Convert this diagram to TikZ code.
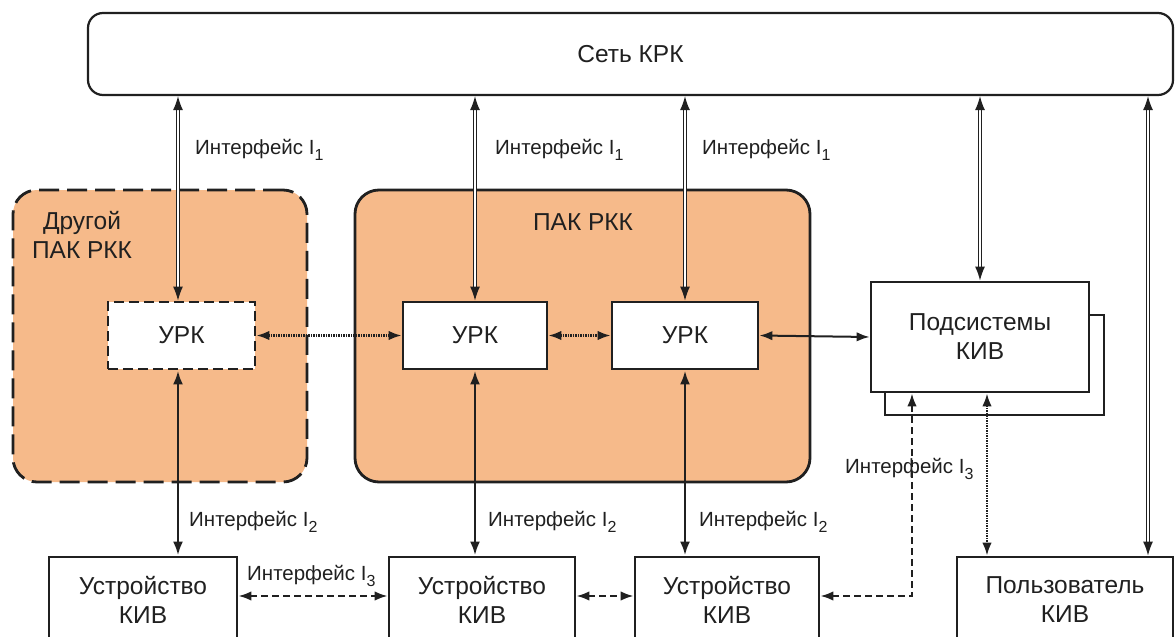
\documentclass[tikz,border=0pt]{standalone}
\usepackage{fontspec}
\setmainfont{Liberation Sans}
\usetikzlibrary{arrows.meta,calc}
\definecolor{pak}{RGB}{246,186,138}
\definecolor{ink}{RGB}{32,32,32}
\newcommand{\isub}[1]{\raisebox{-5.5pt}{\fontsize{16}{16}\selectfont #1}}
\begin{document}
\begin{tikzpicture}[x=1pt,y=-1pt,
  every node/.style={text=ink},
  box/.style={draw=ink, line width=2.8pt, fill=white, align=center, inner sep=0pt,
    font=\fontsize{24.5}{29}\selectfont},
  grp/.style={draw=ink, line width=2.8pt, fill=pak, rounded corners=24pt, inner sep=0pt},
  lbl/.style={anchor=west, font=\fontsize{20.5}{24}\selectfont, inner sep=0pt},
  ione/.style={draw=ink, double=white, double distance=2.2pt, line width=1.3pt, {Latex[length=14pt,width=10pt]}-{Latex[length=14pt,width=10pt]}},
  itwo/.style={draw=ink, line width=2.8pt, {Latex[length=14pt,width=10pt]}-{Latex[length=14pt,width=10pt]}},
  dotarr/.style={draw=ink, line width=2.2pt, dash pattern=on 1.4pt off 1.1pt, {Latex[length=13pt,width=9.5pt]}-{Latex[length=13pt,width=9.5pt]}},
  dasharr/.style={draw=ink, line width=2.2pt, dash pattern=on 7pt off 4pt, {Latex[length=13pt,width=9.5pt]}-{Latex[length=13pt,width=9.5pt]}},
  solarr/.style={draw=ink, line width=2pt, {Latex[length=13pt,width=9.5pt]}-{Latex[length=13pt,width=9.5pt]}}
]
\clip (0,0) rectangle (1176,637);
\fill[white] (0,0) rectangle (1176,637);

% network
\node[box, line width=2.2pt, rounded corners=15pt, minimum width=1085pt, minimum height=82pt] (net) at (630.5,54) {Сеть КРК};

% groups
\node[grp, dash pattern=on 20pt off 8pt, minimum width=294pt, minimum height=292pt] (other) at (160,336) {};
\node[grp, minimum width=455pt, minimum height=292pt] (pakg) at (582.5,336) {};
\node[align=center, inner sep=0pt, font=\fontsize{24.5}{29}\selectfont] (othert) at (82,235) {Другой\\ПАК РКК};
\node[inner sep=0pt, font=\fontsize{24.5}{29}\selectfont] (pakt) at (583,222) {ПАК РКК};

% URKs
\node[box, dash pattern=on 10pt off 5pt, minimum width=147pt, minimum height=67pt] (urkL) at (181.5,335.5) {УРК};
\node[box, minimum width=144pt, minimum height=67pt] (urkM) at (475,335.5) {УРК};
\node[box, minimum width=146pt, minimum height=67pt] (urkR) at (685,335.5) {УРК};

% subsystems
\node[box, minimum width=219pt, minimum height=100pt] (podS) at (994.5,365) {};
\node[box, minimum width=218pt, minimum height=110pt] (pod) at (980,337) {Подсистемы\\КИВ};

% devices
\node[box, minimum width=188pt, minimum height=86pt] (dev1) at (143,600) {Устройство\\КИВ};
\node[box, minimum width=186pt, minimum height=86pt] (dev2) at (482,600) {Устройство\\КИВ};
\node[box, minimum width=184pt, minimum height=86pt] (dev3) at (727,600) {Устройство\\КИВ};
\node[box, minimum width=216pt, minimum height=86pt] (user) at (1065,600) {Пользователь\\КИВ};

% interface I1
\draw[ione] ([xshift=-3.5pt]urkL.north |- net.south) -- ([xshift=-3.5pt]urkL.north);
\draw[ione] (urkM.north |- net.south) -- (urkM.north);
\draw[ione] (urkR.north |- net.south) -- (urkR.north);
\draw[ione] (pod.north |- net.south) -- (pod.north);
\draw[ione] ([xshift=83pt]user.north |- net.south) -- ([xshift=83pt]user.north);
\node[lbl] (l1a) at (195,150) {Интерфейс I\isub{1}};
\node[lbl] (l1b) at (495,150) {Интерфейс I\isub{1}};
\node[lbl] (l1c) at (702,150) {Интерфейс I\isub{1}};

% interface I2
\draw[itwo] ([xshift=-3.5pt]urkL.south) -- ([xshift=-3.5pt]urkL.south |- dev1.north);
\draw[itwo] (urkM.south) -- (urkM.south |- dev2.north);
\draw[itwo] (urkR.south) -- (urkR.south |- dev3.north);
\node[lbl] (l2a) at (189,522) {Интерфейс I\isub{2}};
\node[lbl] (l2b) at (488,522) {Интерфейс I\isub{2}};
\node[lbl] (l2c) at (699,522) {Интерфейс I\isub{2}};

% URK links
\draw[dotarr] (urkL.east) -- (urkM.west);
\draw[dotarr] (urkM.east) -- (urkR.west);
\draw[solarr] (urkR.east) -- (pod.west);

% interface I3
\draw[dasharr] (dev1.east |- 0,596) -- (dev2.west |- 0,596);
\draw[dasharr] (dev2.east |- 0,596) -- (dev3.west |- 0,596);
\node[lbl] (l3a) at (247,576) {Интерфейс I\isub{3}};
\coordinate (elb) at ([xshift=-68pt]pod.south |- 0,596);
\draw[dasharr] ([xshift=-68pt]pod.south) -- (elb) -- (dev3.east |- elb);
\draw[dotarr] ([xshift=7pt]pod.south) -- ([xshift=7pt]pod.south |- user.north);
\node[lbl] (l3b) at (845,469) {Интерфейс I\isub{3}};
\end{tikzpicture}
\end{document}
